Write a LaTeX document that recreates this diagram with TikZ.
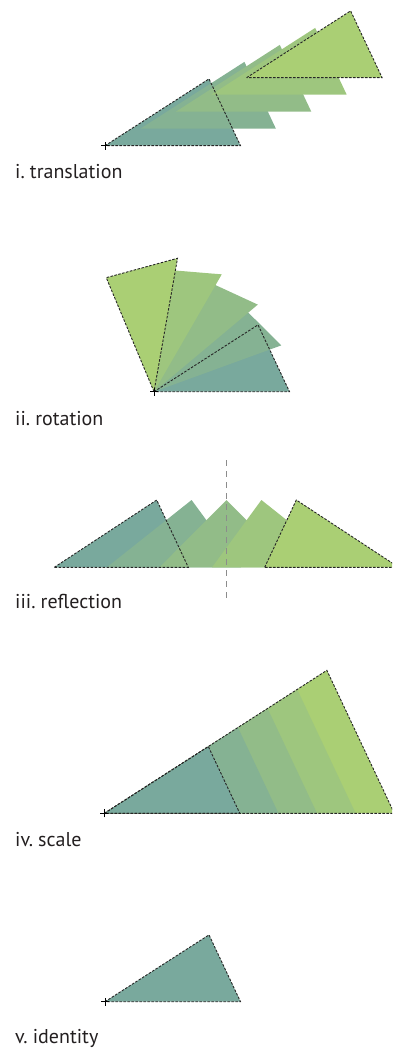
\documentclass[tikz,border=0pt]{standalone}
\usepackage{fontspec}
\setmainfont{PT Sans}
\definecolor{tc}{RGB}{121,169,157}
\definecolor{gc}{RGB}{170,207,116}
\definecolor{txt}{RGB}{35,31,32}
\newcommand\lblspacing{\spaceskip=0.17em plus 0.05em\relax}
\begin{document}
\begin{tikzpicture}[x=1pt,y=-1pt,
  outl/.style={draw=black!85, line width=0.9pt, dash pattern=on 2.5pt off 1.5pt},
  lbl/.style={anchor=base west, font=\fontsize{20}{24}\selectfont, text=txt, inner sep=0pt, execute at begin node=\lblspacing},
  plusmark/.style={draw=black, line width=0.9pt},
  axisline/.style={draw=black!45, line width=1.3pt, dash pattern=on 6pt off 5pt}]
\useasboundingbox (0,0) rectangle (392,1048);
\clip (0,0) rectangle (392,1048);

% ---------- i. translation ----------
\coordinate (o1) at (105,145.7);
\foreach \k in {0,...,4} {
  \pgfmathtruncatemacro\p{25*\k}
  \fill[gc!\p!tc, shift={({105+35.4*\k},{145.7-17*\k})}] (0,0) -- (104,-66.8) -- (135.5,0) -- cycle;
}
\draw[outl, shift={(105,145.7)}] (0,0) -- (104,-66.8) -- (135.5,0) -- cycle;
\draw[outl, shift={({105+141.6},{145.7-68})}] (0,0) -- (104,-66.8) -- (135.5,0) -- cycle;
\draw[plusmark] ([xshift=-4pt]o1) -- ([xshift=4pt]o1) ([yshift=-4pt]o1) -- ([yshift=4pt]o1);
\node[lbl] (l1) at (15,178.3) {i. translation};

% ---------- ii. rotation ----------
\coordinate (o2) at (154,391.7);
\foreach \k in {0,...,4} {
  \pgfmathtruncatemacro\p{25*\k}
  \fill[gc!\p!tc, shift={(154,391.7)}, rotate={20*\k}] (0,0) -- (104,-66.8) -- (135.5,0) -- cycle;
}
\draw[outl, shift={(154,391.7)}] (0,0) -- (104,-66.8) -- (135.5,0) -- cycle;
\draw[outl, shift={(154,391.7)}, rotate=80] (0,0) -- (104,-66.8) -- (135.5,0) -- cycle;
\draw[plusmark] ([xshift=-4pt]o2) -- ([xshift=4pt]o2) ([yshift=-4pt]o2) -- ([yshift=4pt]o2);
\node[lbl] (l2) at (15,425) {ii. rotation};

% ---------- iii. reflection ----------
\foreach \L/\A/\R [count=\i from 0] in {54.3/156.7/188.3, 106.9/191.6/240.9, 159.5/226.5/293.5, 212.1/261.4/346.1, 264.7/296.3/398.7} {
  \pgfmathtruncatemacro\p{25*\i}
  \fill[gc!\p!tc] (\L,567.3) -- (\A,500) -- (\R,567.3) -- cycle;
}
\draw[outl] (54.3,567.3) -- (156.7,500) -- (188.3,567.3) -- cycle;
\draw[outl] (264.7,567.3) -- (296.3,500) -- (398.7,567.3) -- cycle;
\coordinate (ax1) at (226.6,460);
\coordinate (ax2) at (226.6,600);
\draw[axisline] (ax1) -- (ax2);
\node[lbl] (l3) at (15,608.3) {iii. reflection};

% ---------- iv. scale ----------
\coordinate (o4) at (104.3,813.3);
\foreach \k in {4,3,2,1,0} {
  \pgfmathtruncatemacro\p{25*\k}
  \fill[gc!\p!tc, shift={(104.3,813.3)}, scale={1+0.285*\k}] (0,0) -- (104,-66.8) -- (135.5,0) -- cycle;
}
\draw[outl, shift={(104.3,813.3)}] (0,0) -- (104,-66.8) -- (135.5,0) -- cycle;
\draw[outl, shift={(104.3,813.3)}, scale=2.14] (0,0) -- (104,-66.8) -- (135.5,0) -- cycle;
\draw[plusmark] ([xshift=-4pt]o4) -- ([xshift=4pt]o4) ([yshift=-4pt]o4) -- ([yshift=4pt]o4);
\node[lbl] (l4) at (15,846) {iv. scale};

% ---------- v. identity ----------
\coordinate (o5) at (105,1001.7);
\fill[tc, shift={(105,1001.7)}] (0,0) -- (104,-66.8) -- (135.5,0) -- cycle;
\draw[outl, shift={(105,1001.7)}] (0,0) -- (104,-66.8) -- (135.5,0) -- cycle;
\draw[plusmark] ([xshift=-4pt]o5) -- ([xshift=4pt]o5) ([yshift=-4pt]o5) -- ([yshift=4pt]o5);
\node[lbl] (l5) at (15,1043.3) {v. identity};
\end{tikzpicture}
\end{document}
